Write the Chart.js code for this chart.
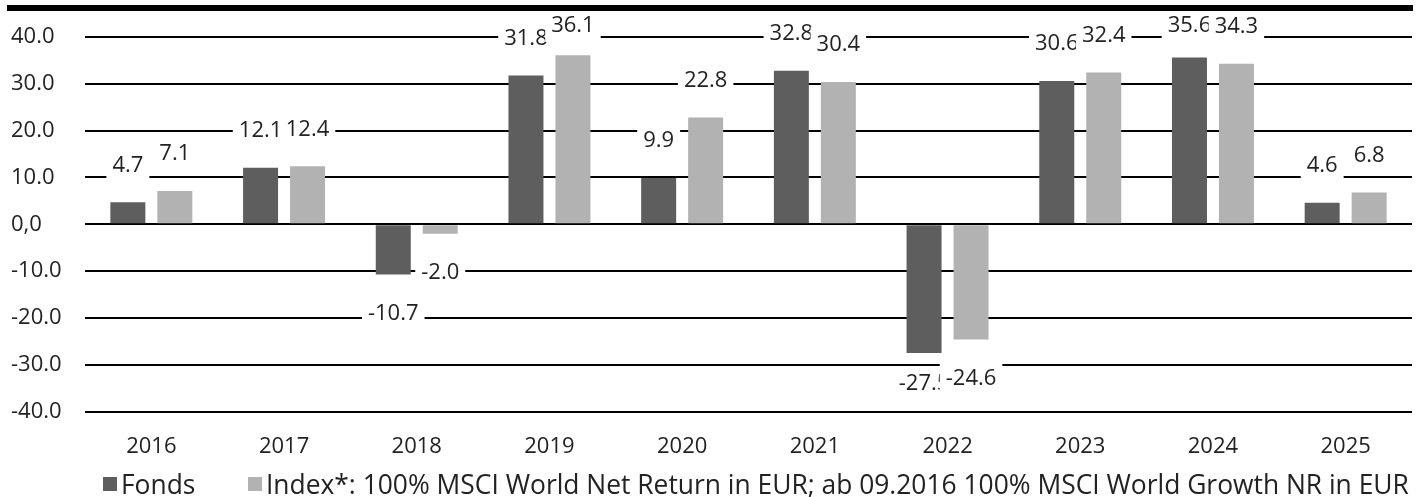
<!DOCTYPE html>
<html>
<head>
<meta charset="utf-8">
<script src="https://cdn.jsdelivr.net/npm/chart.js@4.4.1/dist/chart.umd.min.js"></script>
<style>
  body { margin: 0; background: #fff; font-family: 'Open Sans', sans-serif; }
  #wrap { position: relative; width: 1419px; height: 497px; }
  #topRule { position: absolute; left: 7px; top: 5px; width: 1406px; height: 6px; background: #000; z-index: 2; }
  .legend { position: absolute; top: 466px; display: flex; align-items: center; font-size: 26.4px; line-height: 36px; color: #222; white-space: nowrap; }
  .legend .box { width: 14px; height: 14px; margin-right: 4px; display: inline-block; }
</style>
</head>
<body>
<div id="wrap">
  <div id="topRule"></div>
  <canvas id="chart" width="1419" height="497"></canvas>
  <div class="legend" style="left:103px"><span class="box" style="background:#5e5e5e"></span>Fonds</div>
  <div class="legend" style="left:248px"><span class="box" style="background:#b2b2b2"></span>Index*: 100% MSCI World Net Return in EUR; ab 09.2016 100% MSCI World Growth NR in EUR</div>
</div>
<script>
  // Daten
  const years = ['2016', '2017', '2018', '2019', '2020', '2021', '2022', '2023', '2024', '2025'];
  const fondsValues = [4.7, 12.1, -10.7, 31.8, 9.9, 32.8, -27.5, 30.6, 35.6, 4.6];
  const indexValues = [7.1, 12.4, -2.0, 36.1, 22.8, 30.4, -24.6, 32.4, 34.3, 6.8];
  const yTicks = [40, 30, 20, 10, 0, -10, -20, -30, -40];

  const FONT = '"Open Sans", sans-serif';

  // Wertbeschriftungen mit weissem Hintergrund
  const barLabels = {
    id: 'barLabels',
    afterDatasetsDraw(chart) {
      const ctx = chart.ctx;
      ctx.save();
      ctx.font = '22px ' + FONT;
      ctx.textAlign = 'center';
      ctx.textBaseline = 'middle';
      chart.data.datasets.forEach((ds, i) => {
        const meta = chart.getDatasetMeta(i);
        meta.data.forEach((bar, j) => {
          const v = ds.data[j];
          const txt = v.toFixed(1);
          const y = v >= 0 ? Math.max(bar.y - 38, 25) : Math.min(bar.y + 38, 383);
          const w = ctx.measureText(txt).width + 12;
          ctx.fillStyle = '#fff';
          ctx.fillRect(bar.x - w / 2, y - 17, w, 34);
          ctx.fillStyle = '#222';
          ctx.fillText(txt, bar.x, y + 1);
        });
      });
      ctx.restore();
    }
  };

  new Chart(document.getElementById('chart'), {
    type: 'bar',
    data: {
      labels: years,
      datasets: [
        { label: 'Fonds', data: fondsValues, backgroundColor: '#5e5e5e' },
        { label: 'Index', data: indexValues, backgroundColor: '#b2b2b2' },
      ],
    },
    options: {
      responsive: false,
      devicePixelRatio: 1,
      animation: false,
      categoryPercentage: 0.708,
      barPercentage: 0.745,
      layout: { padding: { left: 11, right: 7, top: 37, bottom: 23 } },
      plugins: {
        legend: { display: false },
        tooltip: { enabled: false },
      },
      scales: {
        x: {
          grid: { display: false },
          border: { display: false },
          ticks: { color: '#222', font: { family: FONT, size: 22 }, padding: 14 },
        },
        y: {
          min: -40,
          max: 40,
          afterBuildTicks: (scale) => { scale.ticks = yTicks.map((v) => ({ value: v })); },
          afterFit: (scale) => { scale.width = 74; },
          grid: { color: '#000', lineWidth: 2, drawTicks: false },
          border: { display: false },
          ticks: {
            color: '#222',
            font: { family: FONT, size: 22 },
            crossAlign: 'far',
            padding: 10,
            callback: (v) => (v === 0 ? '0,0' : v.toFixed(1)),
          },
        },
      },
    },
    plugins: [barLabels],
  });
</script>
</body>
</html>
